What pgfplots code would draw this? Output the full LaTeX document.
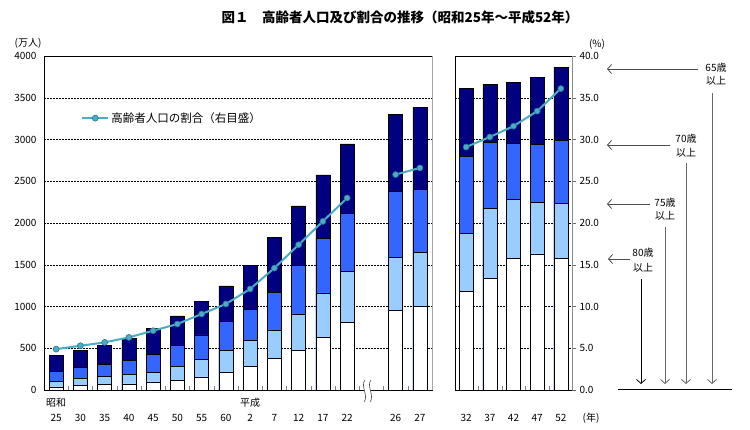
\documentclass[border=0pt]{standalone}
\usepackage{fontspec}
\setmainfont{Noto Sans CJK JP}
\usepackage{pgfplots}
\usepackage{pgfplotstable}
\pgfplotsset{compat=1.18}
\usetikzlibrary{arrows.meta}
\definecolor{c65}{RGB}{0,0,128}
\definecolor{c70}{RGB}{51,102,255}
\definecolor{c75}{RGB}{153,204,255}
\definecolor{cline}{RGB}{75,172,198}
\definecolor{cmark}{RGB}{40,120,145}
\newcommand\fs[2]{\fontsize{#1}{#2}\selectfont}

% population (10 thousand persons), cumulative: 65+, 70+, 75+, 80+
\pgfplotstableread{
x a65 a70 a75 a80
0 411 219 106 37
1 475 268 139 52
2 535 304 163 64
3 618 359 189 72
4 733 431 215 96
5 887 535 284 116
6 1065 659 366 156
7 1247 818 471 212
8 1493 970 597 287
9 1828 1170 717 379
10 2204 1489 901 479
11 2576 1816 1164 631
12 2948 2112 1419 814
14 3296 2375 1590 950
15 3384 2403 1646 1002
}\leftdata

\pgfplotstableread{
x a65 a70 a75 a80
0 3612 2794 1879 1178
1 3657 2962 2171 1341
2 3685 2950 2279 1573
3 3741 2946 2243 1629
4 3868 2986 2231 1573
}\rightdata

% share of population aged 65+ (%)
\pgfplotstableread{
x r
0 4.9
1 5.3
2 5.7
3 6.3
4 7.1
5 7.9
6 9.1
7 10.3
8 12.1
9 14.6
10 17.4
11 20.2
12 23.0
}\leftratioA
\pgfplotstableread{
x r
14 25.8
15 26.6
}\leftratioB
\pgfplotstableread{
x r
0 29.1
1 30.3
2 31.6
3 33.4
4 36.1
}\rightratio

\pgfplotsset{
  barstyle/.style={ybar, bar width=14bp, bar shift=0pt, draw=black, line width=0.6bp},
  ratiostyle/.style={color=cline, line width=2bp, mark=*, mark size=3bp,
     mark options={fill=cline, draw=cmark, line width=0.6bp}},
}

\begin{document}
\begin{tikzpicture}
\path[use as bounding box] (0,0) rectangle (750bp,-430bp);

% title
\node[font=\bfseries\fs{13.5bp}{16bp}] at (400bp,-17bp) {図１　高齢者人口及び割合の推移（昭和25年～平成52年）};
\node[font=\fs{10bp}{12bp}] at (28bp,-43bp) {(万人)};
\node[font=\fs{10bp}{12bp}] at (597bp,-44bp) {(\%)};

% ---------- left panel: bars ----------
\begin{axis}[at={(44bp,-390bp)}, anchor=south west, scale only axis,
  width=388bp, height=334bp,
  xmin=-0.5, xmax=15.5, ymin=0, ymax=4000,
  ytick={0,500,...,4000},
  ymajorgrids, major grid style={black, line width=0.5bp, dash pattern=on 2bp off 1bp},
  xtick={0,1,2,3,4,5,6,7,8,9,10,11,12,14,15},
  xticklabels={25,30,35,40,45,50,55,60,2,7,12,17,22,26,27},
  minor xtick={0.5,1.5,2.5,3.5,4.5,5.5,6.5,7.5,8.5,9.5,10.5,11.5,12.5,13.5,14.5},
  major tick length=0pt, minor tick length=4bp, tick align=inside,
  xtick pos=bottom, ytick pos=left,
  axis line style={black, line width=0.6bp},
  tick label style={font=\fs{10bp}{12bp}},
  /pgf/number format/assume math mode=true,
  /pgf/number format/1000 sep={},
  scaled y ticks=false,
  yticklabel style={anchor=east, xshift=-4bp},
  xticklabel style={anchor=base, yshift=-31bp},
  clip=false]
\addplot[barstyle, fill=c65] table[x=x, y=a65] {\leftdata};
\addplot[barstyle, fill=c70] table[x=x, y=a70] {\leftdata};
\addplot[barstyle, fill=c75] table[x=x, y=a75] {\leftdata};
\addplot[barstyle, fill=white] table[x=x, y=a80] {\leftdata};
\draw[black!35, line width=0.8bp] (rel axis cs:1,0) -- (rel axis cs:1,1);
\node[font=\fs{10bp}{12bp}, anchor=base] at (axis cs:0,0) [yshift=-16bp] {昭和};
\node[font=\fs{10bp}{12bp}, anchor=base] at (axis cs:8,0) [yshift=-16bp] {平成};
\end{axis}

% ---------- left panel: ratio line ----------
\begin{axis}[at={(44bp,-390bp)}, anchor=south west, scale only axis,
  width=388bp, height=334bp,
  xmin=-0.5, xmax=15.5, ymin=0, ymax=40, hide axis, clip=false,
  legend style={at={(0.093,0.814)}, anchor=west, draw=none, fill=none,
     font=\fs{11.5bp}{13bp}, inner sep=1bp},
  legend cell align=left,
  legend image code/.code={
    \draw[mark repeat=2, mark phase=2, #1] plot coordinates {(0bp,0bp) (13bp,0bp) (26bp,0bp)};}]
\addplot[ratiostyle] table[x=x, y=r] {\leftratioA};
\addlegendentry{高齢者人口の割合（右目盛）}
\addplot[ratiostyle, forget plot] table[x=x, y=r] {\leftratioB};
\end{axis}

% axis break symbol
\fill[white] (365bp,-380bp) .. controls (360bp,-386bp) and (369bp,-396bp) .. (364bp,-402bp)
   -- (370bp,-402bp) .. controls (375bp,-396bp) and (366bp,-386bp) .. (371bp,-380bp) -- cycle;
\draw[black!70, line width=0.6bp] (365bp,-380bp) .. controls (360bp,-386bp) and (369bp,-396bp) .. (364bp,-402bp);
\draw[black!70, line width=0.6bp] (371bp,-380bp) .. controls (366bp,-386bp) and (375bp,-396bp) .. (370bp,-402bp);

% ---------- right panel: bars ----------
\begin{axis}[at={(455bp,-390bp)}, anchor=south west, scale only axis,
  width=117bp, height=334bp,
  xmin=-0.47, xmax=4.47, ymin=0, ymax=4000,
  ytick={0,500,...,4000}, yticklabels={},
  ymajorgrids, major grid style={black, line width=0.5bp, dash pattern=on 2bp off 1bp},
  xtick={0,1,2,3,4},
  xticklabels={32,37,42,47,52},
  minor xtick={0.5,1.5,2.5,3.5},
  major tick length=0pt, minor tick length=4bp, tick align=inside,
  xtick pos=bottom, ytick pos=left,
  axis line style={black, line width=0.6bp},
  tick label style={font=\fs{10bp}{12bp}},
  /pgf/number format/assume math mode=true,
  xticklabel style={anchor=base, yshift=-31bp},
  clip=false]
\addplot[barstyle, fill=c65] table[x=x, y=a65] {\rightdata};
\addplot[barstyle, fill=c70] table[x=x, y=a70] {\rightdata};
\addplot[barstyle, fill=c75] table[x=x, y=a75] {\rightdata};
\addplot[barstyle, fill=white] table[x=x, y=a80] {\rightdata};
\node[font=\fs{10bp}{12bp}, anchor=base] at (axis cs:4.47,0) [xshift=19bp, yshift=-31bp] {(年)};
\end{axis}

% ---------- right panel: ratio line + right axis ----------
\begin{axis}[at={(455bp,-390bp)}, anchor=south west, scale only axis,
  width=117bp, height=334bp,
  xmin=-0.47, xmax=4.47, ymin=0, ymax=40,
  axis x line=none, axis y line*=right,
  axis line style={black!45, line width=0.8bp, -},
  ytick={0,5,...,40},
  tick align=outside, major tick length=4bp,
  ytick style={black!60, line width=0.5bp},
  tick label style={font=\fs{10bp}{12bp}},
  yticklabel style={/pgf/number format/.cd, fixed, fixed zerofill, precision=1, assume math mode=true},
  clip=false]
\addplot[ratiostyle] table[x=x, y=r] {\rightratio};
\end{axis}

% ---------- age-bracket annotations ----------
\begin{scope}[line width=0.8bp, font=\fs{10bp}{12bp}]
\draw[black!70, -{Straight Barb[length=4bp, width=9bp]}] (698bp,-69bp) -- (607bp,-69bp);
\draw[black!70, -{Straight Barb[length=4bp, width=9bp]}] (670bp,-145bp) -- (607bp,-145bp);
\draw[black!70, -{Straight Barb[length=4bp, width=9bp]}] (650bp,-204bp) -- (607bp,-204bp);
\draw[black!70, -{Straight Barb[length=4bp, width=9bp]}] (630bp,-259bp) -- (608bp,-259bp);
\node at (716bp,-67.5bp) {65歳}; \node at (716bp,-81bp) {以上};
\node at (686bp,-139bp) {70歳}; \node at (686bp,-152.5bp) {以上};
\node at (665bp,-202.5bp) {75歳}; \node at (665bp,-215.5bp) {以上};
\node at (643bp,-252.5bp) {80歳}; \node at (643bp,-267.5bp) {以上};
\draw[black!60, -{Straight Barb[length=4bp, width=9bp]}] (712bp,-93bp) -- (712bp,-384bp);
\draw[black!60, -{Straight Barb[length=4bp, width=9bp]}] (686bp,-163bp) -- (686bp,-384bp);
\draw[black!60, -{Straight Barb[length=4bp, width=9bp]}] (665bp,-227bp) -- (665bp,-384bp);
\draw[black, -{Straight Barb[length=4bp, width=9bp]}] (641bp,-279bp) -- (641bp,-384bp);
\draw[black] (618bp,-389bp) -- (732bp,-389bp);
\end{scope}
\end{tikzpicture}
\end{document}
